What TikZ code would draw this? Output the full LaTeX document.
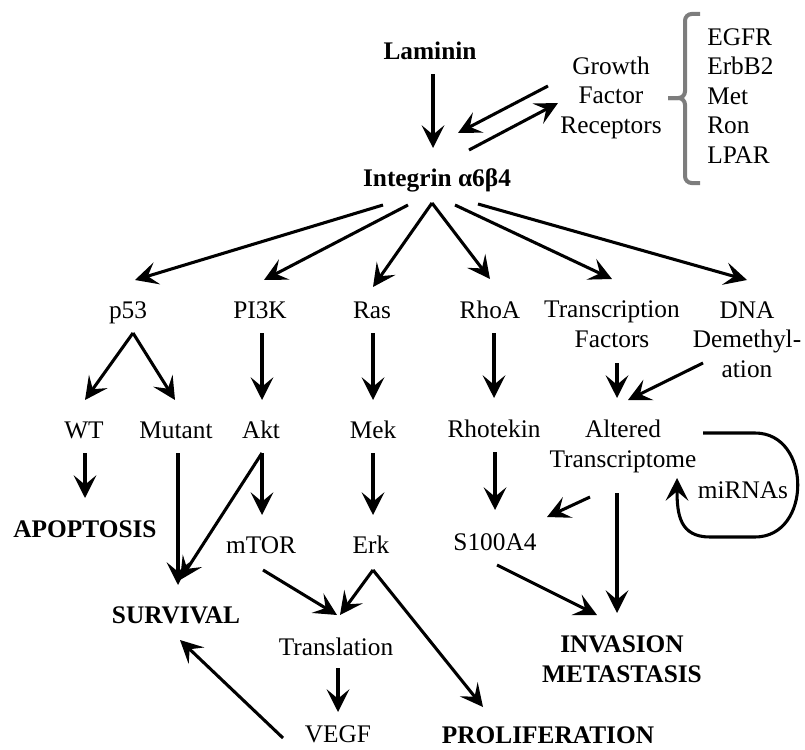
\documentclass[tikz,border=0pt]{standalone}
\usepackage{fontspec}
\setmainfont{Liberation Serif}
\usetikzlibrary{arrows.meta}
\definecolor{brkgray}{RGB}{125,125,125}
\begin{document}
\begin{tikzpicture}[x=0.75pt,y=-0.75pt,
  lbl/.style={inner sep=0pt, anchor=base, align=center, font=\fontsize{19pt}{22.1pt}\selectfont},
  lblb/.style={lbl, font=\fontsize{19pt}{22.1pt}\selectfont\bfseries},
  arr/.style={line width=2.3pt, -{Stealth[length=17pt,width=17pt,inset=7pt]}},
  brk/.style={line width=3pt, draw=brkgray, rounded corners=5pt}]
\useasboundingbox (0,0) rectangle (805,749);
% nodes
\node[lblb] (lam) at (430,60) {Laminin};
\node[lblb] (int) at (437,186) {Integrin α6β4};
\node[lbl] (gfr) at (611,133) {Growth\\Factor\\Receptors};
\node[lbl, anchor=base west, align=left] (rcp) at (707,163) {EGFR\\ErbB2\\Met\\Ron\\LPAR};
\node[lbl] (p53) at (128,318) {p53};
\node[lbl] (pik) at (260,318) {PI3K};
\node[lbl] (ras) at (372,318) {Ras};
\node[lbl] (rhoa) at (490,318) {RhoA};
\node[lbl] (tf) at (612,347) {Transcription\\Factors};
\node[lbl] (dna) at (747,377) {DNA\\Demethyl-\\ation};
\node[lbl] (wt) at (84,438) {WT};
\node[lbl] (mut) at (176,438) {Mutant};
\node[lbl] (akt) at (261,438) {Akt};
\node[lbl] (mek) at (373,438) {Mek};
\node[lbl] (rho) at (494,437) {Rhotekin};
\node[lbl] (alt) at (623,467) {Altered\\Transcriptome};
\node[lblb] (apo) at (85,537) {APOPTOSIS};
\node[lbl] (mtor) at (261,553) {mTOR};
\node[lbl] (erk) at (371,553) {Erk};
\node[lbl] (s100) at (495,550) {S100A4};
\node[lblb] (surv) at (176,623) {SURVIVAL};
\node[lbl] (trl) at (336,655) {Translation};
\node[lbl] (vegf) at (338,742) {VEGF};
\node[lblb] (prol) at (548,743) {PROLIFERATION};
\node[lblb] (inv) at (622,682) {INVASION\\METASTASIS};
\node[lbl] (mir) at (743,498) {miRNAs};
% bracket
\draw[brk] (700,14) -- (685,14) -- (685,98) -- (668,98);
\draw[brk] (700,183) -- (685,183) -- (685,98) -- (668,98);
% connectors
\draw[arr] ([shift={(3,14)}]lam.base) -- ([shift={(-4,-38)}]int.base);
\draw[arr] ([shift={(-63,-47)}]gfr.base) -- ([shift={(21,-53)}]int.base);
\draw[arr] ([shift={(32,-36)}]int.base) -- ([shift={(-53,-30)}]gfr.base);
\draw[arr] ([shift={(-54,19)}]int.base) -- ([shift={(7,-38)}]p53.base);
\draw[arr] ([shift={(-29,19)}]int.base) -- ([shift={(4,-38)}]pik.base);
\draw[arr] ([shift={(-5,17)}]int.base) -- ([shift={(1,-31)}]ras.base);
\draw[arr] ([shift={(-5,17)}]int.base) -- ([shift={(0,-39)}]rhoa.base);
\draw[arr] ([shift={(18,19)}]int.base) -- ([shift={(0,-68)}]tf.base);
\draw[arr] ([shift={(41,18)}]int.base) -- ([shift={(0,-97)}]dna.base);
\draw[arr] ([shift={(5,15)}]p53.base) -- ([shift={(1,-38)}]wt.base);
\draw[arr] ([shift={(5,15)}]p53.base) -- ([shift={(-1,-38)}]mut.base);
\draw[arr] ([shift={(2,15)}]pik.base) -- ([shift={(1,-38)}]akt.base);
\draw[arr] ([shift={(1,15)}]ras.base) -- ([shift={(0,-38)}]mek.base);
\draw[arr] ([shift={(4,15)}]rhoa.base) -- ([shift={(0,-39)}]rho.base);
\draw[arr] ([shift={(5,16)}]tf.base) -- ([shift={(-6,-69)}]alt.base);
\draw[arr] ([shift={(-44,-14)}]dna.base) -- ([shift={(5,-67)}]alt.base);
\draw[arr] ([shift={(1,15)}]wt.base) -- ([shift={(0,-39)}]apo.base);
\draw[arr] ([shift={(2,15)}]mut.base) -- ([shift={(2,-38)}]surv.base);
\draw[arr] ([shift={(1,15)}]akt.base) -- ([shift={(4,-43)}]surv.base);
\draw[arr] ([shift={(1,15)}]akt.base) -- ([shift={(1,-38)}]mtor.base);
\draw[arr] ([shift={(0,15)}]mek.base) -- ([shift={(2,-38)}]erk.base);
\draw[arr] ([shift={(1,15)}]rho.base) -- ([shift={(0,-40)}]s100.base);
\draw[arr] ([shift={(-33,30)}]alt.base) -- ([shift={(52,-33)}]s100.base);
\draw[arr] ([shift={(-6,26)}]alt.base) -- ([shift={(-5,-69)}]inv.base);
\draw[arr] ([shift={(2,15)}]s100.base) -- ([shift={(-25,-67)}]inv.base);
\draw[arr] ([shift={(2,17)}]mtor.base) -- ([shift={(1,-40)}]trl.base);
\draw[arr] ([shift={(2,17)}]erk.base) -- ([shift={(4,-40)}]trl.base);
\draw[arr] ([shift={(2,17)}]erk.base) -- ([shift={(-65,-36)}]prol.base);
\draw[arr] ([shift={(2,13)}]trl.base) -- ([shift={(0,-30)}]vegf.base);
\draw[arr] ([shift={(-55,-4)}]vegf.base) -- ([shift={(4,17)}]surv.base);
% miRNA feedback loop
\draw[arr] ([shift={(80,-34)}]alt.base) -- ([shift={(132,-34)}]alt.base)
  .. controls ([shift={(189,-34)}]alt.base) and ([shift={(189,70)}]alt.base) .. ([shift={(132,70)}]alt.base)
  -- ([shift={(87,70)}]alt.base)
  .. controls ([shift={(57,70)}]alt.base) and ([shift={(54,48)}]alt.base) .. ([shift={(54,11)}]alt.base);
\end{tikzpicture}
\end{document}
